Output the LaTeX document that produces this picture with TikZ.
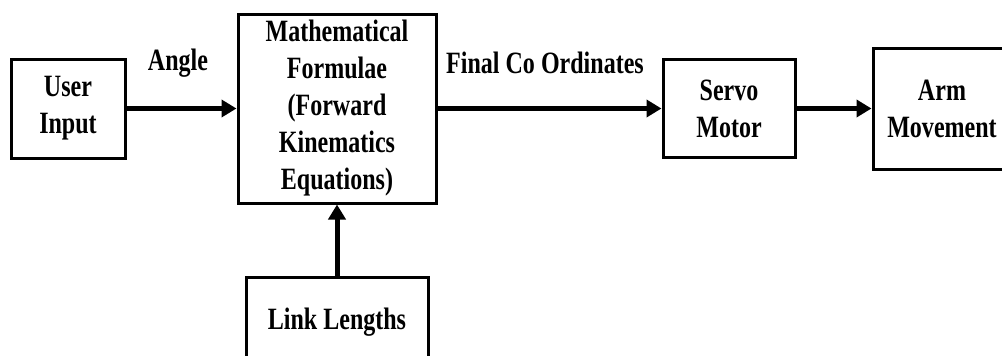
\documentclass[tikz,border=0pt]{standalone}
\usepackage{fontspec}
\setmainfont{Liberation Serif}[FakeStretch=0.775]
\usetikzlibrary{arrows.meta}
\begin{document}
\begin{tikzpicture}[x=1pt,y=-1pt,
  txt/.style={font=\bfseries\fontsize{31}{37}\selectfont, align=center, inner sep=0pt},
  box/.style={txt, draw, line width=3pt},
  conn/.style={line width=5pt, -{Triangle[length=15pt,width=17pt]}}]
\useasboundingbox (0,0) rectangle (1002,356);
\clip (0,0) rectangle (1002,356);
\node[box, minimum width=114pt, minimum height=99pt] (user) at (68,108.5) {User\\Input};
\node[box, minimum width=198pt, minimum height=189pt] (main) at (337,108.5) {Mathematical\\Formulae\\(Forward\\Kinematics\\Equations)};
\node[box, minimum width=182pt, minimum height=90pt] (link) at (337,322) {Link Lengths};
\node[box, minimum width=132pt, minimum height=98pt] (servo) at (729,108.5) {Servo\\Motor};
\node[box, minimum width=138pt, minimum height=121pt] (arm) at (942,108.5) {Arm\\Movement};
\node[txt] (angle) at (178,63) {Angle};
\node[txt] (final) at (545,63) {Final Co Ordinates};
\draw[conn] (user.east) -- (main.west);
\draw[conn] (main.east) -- (servo.west);
\draw[conn] (servo.east) -- (arm.west);
\draw[conn] (link.north) -- (main.south);
\end{tikzpicture}
\end{document}
